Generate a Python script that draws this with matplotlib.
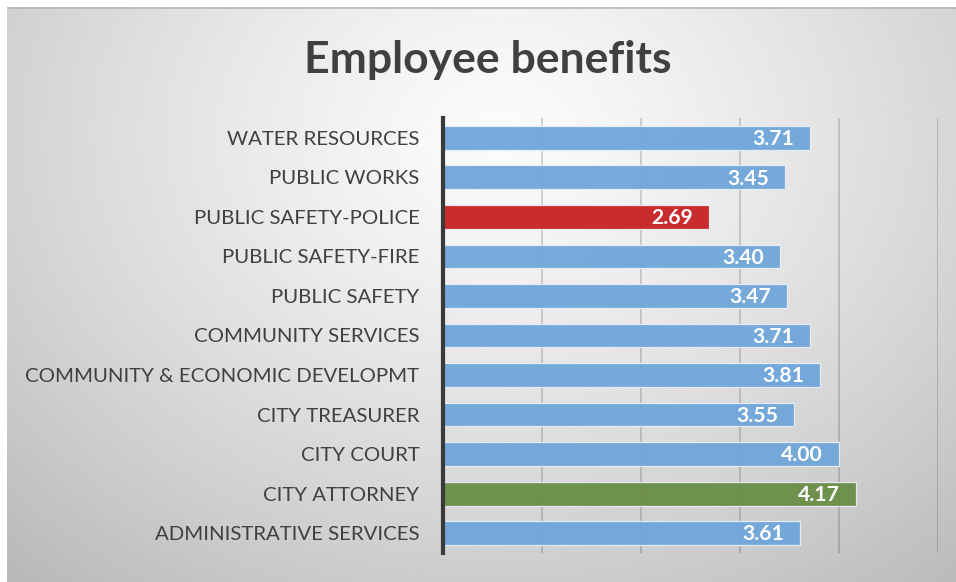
import numpy as np
import matplotlib
matplotlib.use("Agg")
import matplotlib.pyplot as plt

plt.rcParams['font.family'] = ['Lato', 'DejaVu Sans']

# Department scores (top row first)
departments = [
    "WATER RESOURCES",
    "PUBLIC WORKS",
    "PUBLIC SAFETY-POLICE",
    "PUBLIC SAFETY-FIRE",
    "PUBLIC SAFETY",
    "COMMUNITY SERVICES",
    "COMMUNITY & ECONOMIC DEVELOPMT",
    "CITY TREASURER",
    "CITY COURT",
    "CITY ATTORNEY",
    "ADMINISTRATIVE SERVICES",
]
scores = [3.71, 3.45, 2.69, 3.40, 3.47, 3.71, 3.81, 3.55, 4.00, 4.17, 3.61]
lowest = "PUBLIC SAFETY-POLICE"
highest = "CITY ATTORNEY"

BLUE = "#6FA6DA"
RED = "#C62121"
GREEN = "#6A8E47"

W, H = 956, 582
fig = plt.figure(figsize=(W / 100, H / 100), dpi=100)
fig.patch.set_facecolor("white")

# Radial grey gradient behind the chart
bg = fig.add_axes([7 / W, 0, 1 - 7 / W, 1 - 7 / H])
bg.set_axis_off()
nx, ny = 400, 240
xx, yy = np.meshgrid(np.linspace(0, 1, nx), np.linspace(0, 1, ny))
r = np.sqrt(((xx - 0.52) / 0.75) ** 2 + ((yy - 0.22) / 1.0) ** 2)
shade = np.clip(0.985 - 0.25 * r ** 1.25, 0, 1)
bg.imshow(shade, cmap="gray", vmin=0, vmax=1, aspect="auto",
          extent=[0, 1, 1, 0], interpolation="bilinear")
bg.set_xlim(0, 1)
bg.set_ylim(1, 0)
bg.plot([0, 1], [0.002, 0.002], color="#b8b8b8", lw=1.2)

ax = fig.add_axes([443 / W, 1 - 553 / H, (938 - 443) / W, (553 - 118) / H])
ax.set_facecolor("none")

y = np.arange(len(departments))
colors = [RED if d == lowest else GREEN if d == highest else BLUE for d in departments]

ax.set_xlim(0, 5)
ax.set_ylim(len(departments) - 0.5, -0.5)
for gx in [1, 2, 3, 4, 5]:
    ax.axvline(gx, color="black", alpha=0.17, lw=1.3, zorder=1)

ax.barh(y, scores, height=0.6, color=colors, edgecolor="#e8eef5",
        linewidth=0.9, alpha=0.95, zorder=2)

for yi, v in zip(y, scores):
    ax.text(v - 0.16, yi + 0.03, f"{v:.2f}", ha="right", va="center",
            color="white", fontsize=15.2, fontweight="bold", zorder=3)

ax.set_yticks(y)
ax.set_yticklabels(departments, fontsize=14.7, color="#404040")
ax.tick_params(axis="y", length=0, pad=17)
ax.set_xticks([])
for s in ["top", "right", "bottom"]:
    ax.spines[s].set_visible(False)
ax.spines["left"].set_color("#3a3a3a")
ax.spines["left"].set_linewidth(3)
ax.spines["left"].set_zorder(4)

fig.text(488 / W, 1 - 60 / H, "Employee benefits", ha="center", va="center",
         fontsize=32, fontweight="bold", color="#404040")

fig.savefig("out.png", dpi=100)
